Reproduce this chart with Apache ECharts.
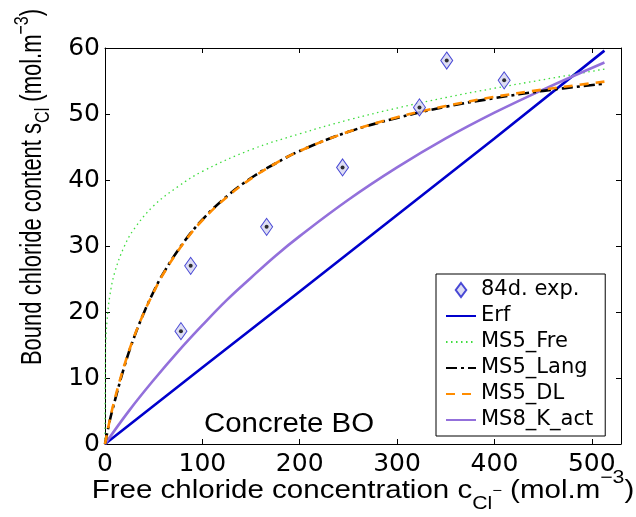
<!DOCTYPE html>
<html>
<head>
<meta charset="utf-8">
<script src="https://cdn.jsdelivr.net/npm/echarts@6/dist/echarts.min.js"></script>
<style>
  html, body { margin: 0; padding: 0; background: #ffffff; }
  #chart { width: 636px; height: 517px; }
</style>
</head>
<body>
<div id="chart"></div>
<script>
// Axis ticks
const xTicks = [0, 100, 200, 300, 400, 500];
const yTicks = [0, 10, 20, 30, 40, 50, 60];

// Measured bound chloride after 84 days
const expX = [78, 88, 166, 244, 323, 351, 410];
const expY = [17.1, 27.0, 32.9, 41.9, 51.0, 58.1, 55.1];

// Erf model
const erfX = [0, 100, 200, 300, 400, 513];
const erfY = [0, 11.6, 23.1, 34.7, 46.3, 59.6];

// MS5 Freundlich isotherm
const freX = [0, 0.5, 1, 2, 5, 10, 20, 30, 50, 75, 100, 150, 200, 250, 300, 350, 400, 450, 513];
const freY = [0, 14.0, 16.1, 18.5, 22.5, 26.0, 30.0, 32.6, 36.1, 39.0, 41.3, 44.6, 47.0, 49.1, 50.9, 52.5, 53.9, 55.2, 56.8];

// MS5 Langmuir isotherm
const langX = [0, 5, 10, 20, 30, 40, 50, 60, 80, 100, 125, 150, 175, 200, 250, 300, 350, 400, 450, 513];
const langY = [0, 3.6, 6.5, 11.8, 16.2, 19.9, 23.1, 25.9, 30.4, 34.0, 37.5, 40.3, 42.5, 44.4, 47.3, 49.4, 51.1, 52.4, 53.5, 54.6];

// MS5 double-layer isotherm
const dlX = [0, 5, 10, 20, 30, 40, 50, 60, 80, 100, 125, 150, 175, 200, 250, 300, 350, 400, 450, 513];
const dlY = [0, 3.7, 6.8, 12.0, 16.3, 19.9, 23.0, 25.8, 30.3, 33.9, 37.4, 40.2, 42.5, 44.4, 47.3, 49.5, 51.2, 52.6, 53.7, 54.9];

// MS8 activity-based model
const kactX = [0, 25, 50, 75, 100, 125, 150, 175, 200, 250, 300, 350, 400, 450, 513];
const kactY = [0, 5.1, 9.7, 14.0, 18.0, 21.8, 25.2, 28.5, 31.5, 37.0, 41.9, 46.3, 50.2, 53.7, 57.8];

const zip = (xs, ys) => xs.map((x, i) => [x, ys[i]]);

const chart = echarts.init(document.getElementById('chart'), null, { renderer: 'canvas' });

const tickFont = 'DejaVu Sans';
const axisBase = {
  type: 'value',
  splitLine: { show: false },
  axisLine: { show: true, onZero: false, lineStyle: { color: '#000', width: 1 } },
  axisTick: { show: true, inside: true, length: 5, lineStyle: { color: '#000', width: 1 } }
};

const lineSeries = (name, xs, ys, color, width, type, z, smooth) => ({
  name: name,
  type: 'line',
  data: zip(xs, ys),
  symbol: 'none',
  smooth: smooth,
  z: z,
  lineStyle: { color: color, width: width, type: type },
  itemStyle: { color: color }
});

// Line entries in the legend show only their stroke
const lineKey = name => ({ name: name, itemStyle: { opacity: 0 } });

const option = {
  animation: false,
  backgroundColor: '#ffffff',
  grid: { left: 105, right: 15, top: 48, bottom: 73 },
  xAxis: [
    Object.assign({}, axisBase, {
      position: 'bottom', min: 0, max: 530, interval: 100,
      axisLabel: {
        color: '#000', fontFamily: tickFont, fontSize: 25, margin: 8,
        formatter: v => (xTicks.indexOf(v) >= 0 ? String(v) : '')
      }
    }),
    Object.assign({}, axisBase, {
      position: 'top', min: 0, max: 530, interval: 100,
      axisLabel: { show: false }
    })
  ],
  yAxis: [
    Object.assign({}, axisBase, {
      position: 'left', min: 0, max: 60, interval: 10,
      axisLabel: {
        color: '#000', fontFamily: tickFont, fontSize: 25, margin: 5,
        formatter: v => (yTicks.indexOf(v) >= 0 ? String(v) : '')
      }
    }),
    Object.assign({}, axisBase, {
      position: 'right', min: 0, max: 60, interval: 10,
      axisLabel: { show: false }
    })
  ],
  legend: {
    left: 436, top: 274,
    orient: 'vertical',
    itemWidth: 30, itemHeight: 14, itemGap: 4,
    symbolKeepAspect: true,
    padding: [5, 12, 5, 9],
    borderColor: '#000', borderWidth: 1, borderRadius: 0,
    backgroundColor: '#ffffff',
    textStyle: { fontFamily: 'DejaVu Sans', fontSize: 21, color: '#000', lineHeight: 22 },
    data: [
      { name: '84d. exp.', icon: 'path://M0,-8L6,0L0,8L-6,0Z' },
      lineKey('Erf'),
      lineKey('MS5_Fre'),
      lineKey('MS5_Lang'),
      lineKey('MS5_DL'),
      lineKey('MS8_K_act')
    ]
  },
  series: [
    lineSeries('Erf', erfX, erfY, '#0000CC', 2.6, 'solid', 2, false),
    lineSeries('MS5_Fre', freX, freY, '#3FDC3F', 1.3, [1.5, 3.5], 2, 0.4),
    lineSeries('MS5_Lang', langX, langY, '#000000', 2.6, [11, 4, 3, 4], 3, 0.4),
    lineSeries('MS5_DL', dlX, dlY, '#FF8C00', 2.6, [9, 7], 4, 0.4),
    lineSeries('MS8_K_act', kactX, kactY, '#9370DB', 2.6, 'solid', 2, 0.4),
    {
      name: '84d. exp.',
      type: 'scatter',
      data: zip(expX, expY),
      symbol: 'diamond',
      symbolSize: [12, 17],
      z: 6,
      itemStyle: { color: '#D4D4F0', borderColor: '#1E1ECC', borderWidth: 1 }
    },
    {
      name: 'centre',
      type: 'scatter',
      data: zip(expX, expY),
      symbol: 'circle',
      symbolSize: 4,
      silent: true,
      z: 7,
      itemStyle: { color: '#000000' }
    }
  ],
  graphic: [
    {
      type: 'text',
      x: 204, y: 425,
      scaleX: 1.09,
      z: 10,
      style: {
        text: 'Concrete BO',
        fontFamily: 'Liberation Sans', fontSize: 27,
        fill: '#000', align: 'left', verticalAlign: 'middle'
      }
    },
    {
      type: 'text',
      x: 33, y: 187,
      rotation: Math.PI / 2,
      scaleY: 1.32,
      z: 10,
      style: {
        text: '{m|Bound chloride content s}{sub|Cl}{m| (mol.m}{sup|\u22123}{m|)}',
        fill: '#000', align: 'center', verticalAlign: 'middle',
        fontFamily: 'Liberation Sans', fontSize: 22,
        rich: {
          m: { fontFamily: 'Liberation Sans', fontSize: 22, lineHeight: 32, fill: '#000' },
          sub: { fontFamily: 'Liberation Sans', fontSize: 16, lineHeight: 16, verticalAlign: 'bottom', fill: '#000' },
          sup: { fontFamily: 'Liberation Sans', fontSize: 16, lineHeight: 17, verticalAlign: 'top', fill: '#000' }
        }
      }
    },
    {
      type: 'text',
      x: 363, y: 491,
      scaleX: 1.18,
      z: 10,
      style: {
        text: '{m|Free chloride concentration c}{sub|Cl}{mn|\u2212}{m| (mol.m}{sup|\u22123}{m|)}',
        fill: '#000', align: 'center', verticalAlign: 'middle',
        fontFamily: 'Liberation Sans', fontSize: 25,
        rich: {
          m: { fontFamily: 'Liberation Sans', fontSize: 25, lineHeight: 44, fill: '#000' },
          sub: { fontFamily: 'Liberation Sans', fontSize: 18, lineHeight: 18, verticalAlign: 'bottom', fill: '#000' },
          mn: { fontFamily: 'Liberation Sans', fontSize: 14, lineHeight: 14, verticalAlign: 'middle', fill: '#000' },
          sup: { fontFamily: 'Liberation Sans', fontSize: 18, lineHeight: 25, verticalAlign: 'top', fill: '#000' }
        }
      }
    }
  ]
};

chart.setOption(option);
</script>
</body>
</html>
